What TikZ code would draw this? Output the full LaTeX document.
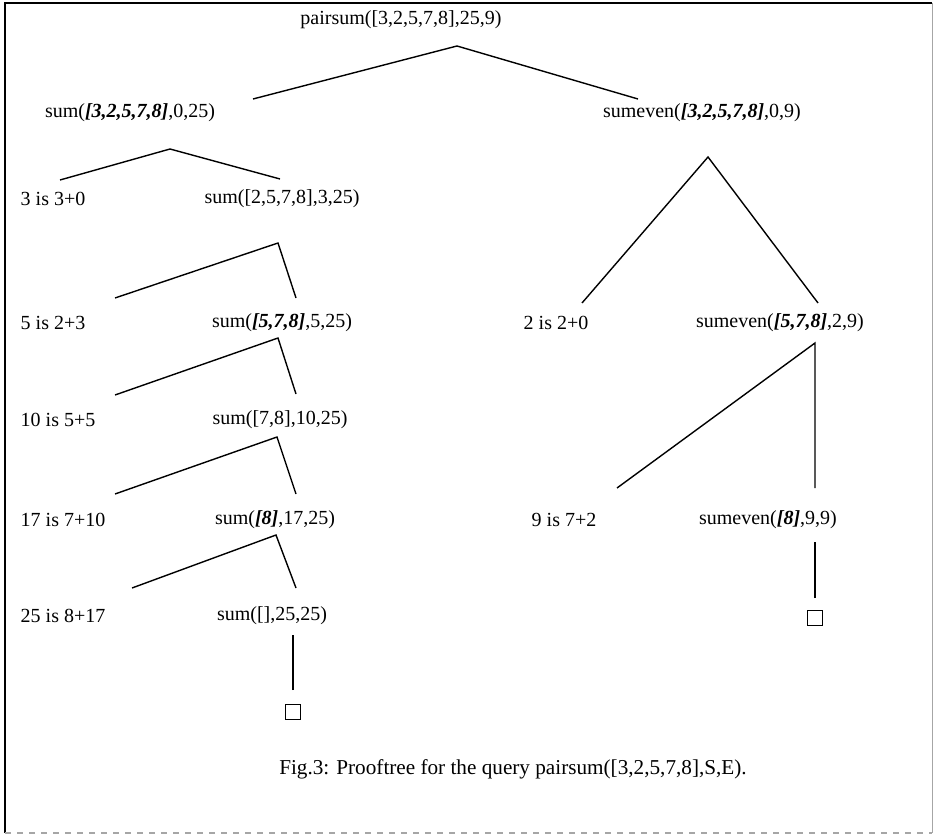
\documentclass[tikz,border=0pt]{standalone}
\usepackage{fontspec}
\setmainfont{Liberation Serif}
\tikzstyle{goal} = [inner sep=0pt, font=\fontsize{10}{12}\selectfont]
\tikzstyle{empty} = [draw, line width=0.6pt, minimum size=7.5pt, inner sep=0pt]
\newcommand{\ilist}[1]{\textbf{\textit{#1}}}

\begin{document}
\begin{tikzpicture}[x=0.5pt, y=-0.5pt, line width=0.7pt,
        every node/.style={goal}]
        \useasboundingbox (0,0) rectangle (935,839);

        % frame
        \draw (5,833) -- (5,3) -- (932,3);
        \draw[black!35, line width=0.5pt] (932,3) -- (932,833);
        \draw[black!35, line width=0.8pt, dashed] (5,833) -- (932,833);

        % goals
        \node (P) at (401,20) {pairsum([3,2,5,7,8],25,9)};
        \node (S0) at (130,113) {sum(\ilist{[3,2,5,7,8]},0,25)};
        \node (E0) at (702,113) {sumeven(\ilist{[3,2,5,7,8]},0,9)};

        \node[anchor=west] (A1) at (20,199) {3 is 3+0};
        \node (S1) at (282,199) {sum([2,5,7,8],3,25)};
        \node[anchor=west] (A2) at (20,323) {5 is 2+3};
        \node (S2) at (282,323) {sum(\ilist{[5,7,8]},5,25)};
        \node[anchor=west] (A3) at (20,420) {10 is 5+5};
        \node (S3) at (280,420) {sum([7,8],10,25)};
        \node[anchor=west] (A4) at (20,520) {17 is 7+10};
        \node (S4) at (275,520) {sum(\ilist{[8]},17,25)};
        \node[anchor=west] (A5) at (20,616) {25 is 8+17};
        \node (S5) at (272,616) {sum([],25,25)};
        \node[empty] (T1) at (293,712) {};

        \node (B1) at (556,323) {2 is 2+0};
        \node (E1) at (780,323) {sumeven(\ilist{[5,7,8]},2,9)};
        \node (B2) at (564,520) {9 is 7+2};
        \node (E2) at (768,520) {sumeven(\ilist{[8]},9,9)};
        \node[empty] (T2) at (815,618) {};

        \node[font=\fontsize{10.6}{12}\selectfont] (C) at (513,769)
          {Fig.3: Prooftree for the query pairsum([3,2,5,7,8],S,E).};

        % branch points
        \coordinate (p) at (457,46);
        \coordinate (s0) at (170,149);
        \coordinate (s1) at (278,243);
        \coordinate (s2) at (278,338);
        \coordinate (s3) at (277,437);
        \coordinate (s4) at (276,535);
        \coordinate (e0) at (708,157);
        \coordinate (e1) at (815,343);

        % proof edges
        \draw (253,99) -- (p) -- (638,99);
        \draw (60,180) -- (s0) -- (280,179);
        \draw (115,298) -- (s1) -- (296,298);
        \draw (115,395) -- (s2) -- (296,394);
        \draw (115,494) -- (s3) -- (296,494);
        \draw (132,588) -- (s4) -- (296,588);
        \draw (T1) ++(0,-22) -- ++(0,-55);
        \draw (582,303) -- (e0) -- (818,303);
        \draw (617,488) -- (e1) -- (815,488);
        \draw (T2) ++(0,-20) -- ++(0,-56);

\end{tikzpicture}
\end{document}
